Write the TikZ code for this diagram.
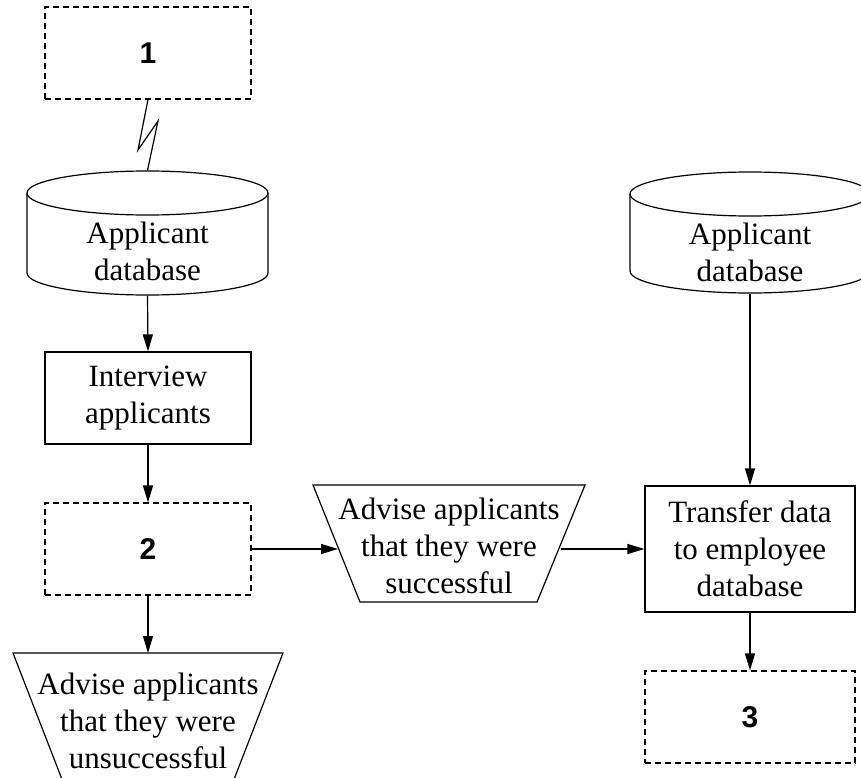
\documentclass[tikz,border=0pt]{standalone}
\usepackage{fontspec}
\setmainfont{Liberation Serif}
\newfontfamily\numfont{Liberation Sans}
\usetikzlibrary{arrows.meta}
\begin{document}
\begin{tikzpicture}[x=1pt,y=-1pt,
  line width=1.2pt,
  every node/.style={font=\fontsize{31}{37}\selectfont, align=center, inner sep=0pt},
  dbox/.style={draw, dash pattern=on 6pt off 4pt, minimum width=206pt, minimum height=92pt,
               font=\numfont\bfseries\fontsize{30}{36}\selectfont},
  pbox/.style={draw, minimum width=206pt, minimum height=92pt},
  shell/.style={minimum width=241pt, minimum height=124pt},
  arr/.style={-{Triangle[length=17pt,width=10pt]}}
  ]
\useasboundingbox (0,0) rectangle (861,778);
\clip (0,0) rectangle (861,778);

% box 1 and left database
\node[dbox] (b1) at (148,53) {1};
\node[shell] (db1) at (147.5,233) {};
\draw (27,193) -- (27,273) arc[start angle=180,end angle=360,x radius=120.5pt,y radius=22pt] -- (268,193);
\draw (147.5,193) ellipse [x radius=120.5pt, y radius=22pt];
\node (db1t) at (147.5,251) {Applicant\\database};
\coordinate (z1) at (138,150);
\coordinate (z2) at (158,121);
\draw (b1.south) -- (z1) -- (z2) -- (db1.north);

% left column
\node[pbox] (iv) at (148,398) {Interview\\applicants};
\node[dbox] (b2) at (148,549) {2};
\draw[arr] (db1.south) -- (iv.north);
\draw[arr] (iv.south) -- (b2.north);

% bottom trapezoid (unsuccessful)
\draw (70,800) -- (13,653) -- (283,653) -- (226,800);
\coordinate (ltTop) at (148,653);
\node (lt) at (148,721) {Advise applicants\\that they were\\unsuccessful};
\draw[arr] (b2.south) -- (ltTop);

% middle trapezoid (successful)
\draw (313,485) -- (585,485) -- (537,602) -- (360,602) -- cycle;
\node (mt) at (449,546) {Advise applicants\\that they were\\successful};
\coordinate (mtL) at (338,549);
\coordinate (mtR) at (561,549);
\draw[arr] (b2.east) -- (mtL);

% right column
\node[shell, minimum width=240pt, minimum height=122pt] (db2) at (750,232.5) {};
\draw (630,194) -- (630,271) arc[start angle=180,end angle=360,x radius=120pt,y radius=22pt] -- (870,194);
\draw (750,194) ellipse [x radius=120pt, y radius=22pt];
\node (db2t) at (750,252) {Applicant\\database};
\node[pbox, minimum width=210pt, minimum height=126pt] (tr) at (750,549) {Transfer data\\to employee\\database};
\node[dbox, minimum width=210pt] (b3) at (750,717) {3};
\draw[arr] (db2.south) -- (tr.north);
\draw[arr] (mtR) -- (tr.west);
\draw[arr] (tr.south) -- (b3.north);
\end{tikzpicture}
\end{document}
